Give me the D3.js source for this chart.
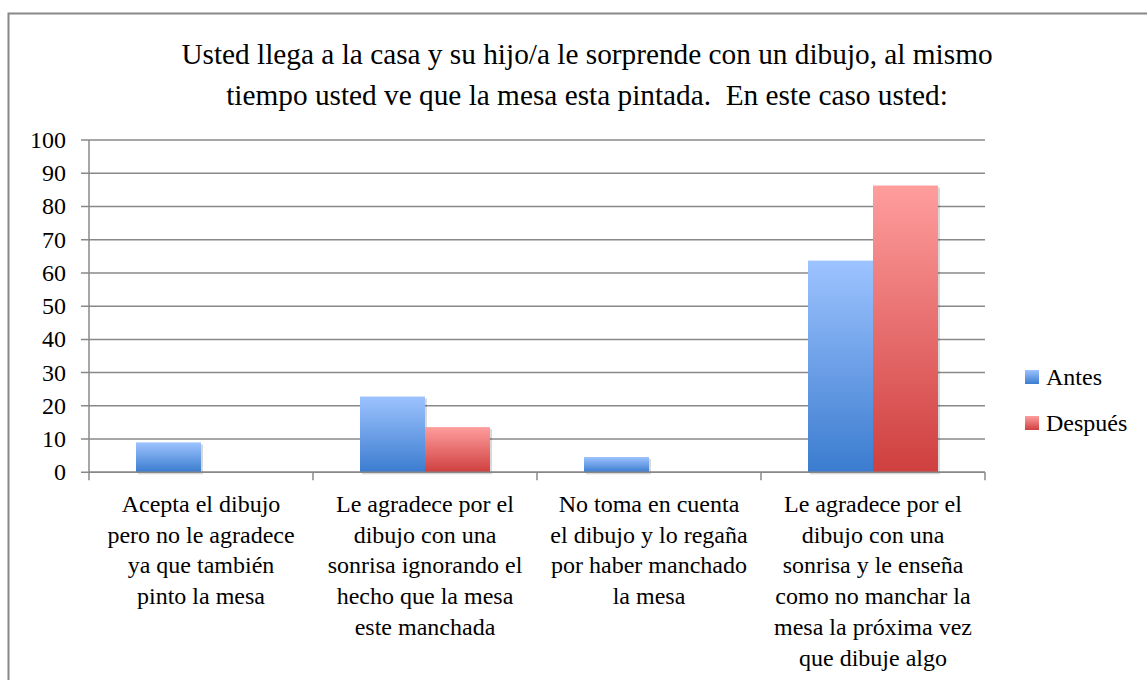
<!DOCTYPE html>
<html><head><meta charset="utf-8">
<script src="https://cdn.jsdelivr.net/npm/d3@7"></script>
</head>
<body style="margin:0"><svg id="c" width="1147" height="680"></svg>
<script>
const titleLines = ["Usted llega a la casa y su hijo/a le sorprende con un dibujo, al mismo",
                    "tiempo usted ve que la mesa esta pintada.  En este caso usted:"];
const categories = [
  ["Acepta el dibujo","pero no le agradece","ya que también","pinto la mesa"],
  ["Le agradece por el","dibujo con una","sonrisa ignorando el","hecho que la mesa","este manchada"],
  ["No toma en cuenta","el dibujo y lo regaña","por haber manchado","la mesa"],
  ["Le agradece por el","dibujo con una","sonrisa y le enseña","como no manchar la","mesa la próxima vez","que dibuje algo"]
];
const seriesNames = ["Antes","Después"];
const antes = [9.0, 22.8, 4.6, 63.7];
const despues = [0, 13.6, 0, 86.3];
const yTicks = [0,10,20,30,40,50,60,70,80,90,100];

const svg = d3.select("#c");
const L=89,R=985,T=140,B=472.3;
const x0 = d3.scaleBand().domain(d3.range(categories.length)).range([L,R]);
const x1 = d3.scaleBand().domain([0,1]).range([0,130]);
const y = d3.scaleLinear().domain([0,100]).range([B,T]);

// texts first
svg.selectAll("text.title").data(titleLines).join("text").attr("class","title")
  .attr("x",587).attr("y",(d,i)=>64+i*41).attr("text-anchor","middle")
  .style("font-family","'Times New Roman'").style("font-size","29.3px").style("white-space","pre")
  .text(d=>d);

svg.selectAll("text.yl").data(yTicks).join("text").attr("class","yl")
  .attr("x",66).attr("y",d=>y(d)+8).attr("text-anchor","end")
  .style("font-family","'Times New Roman'").style("font-size","24px")
  .text(d=>d);

categories.forEach((lines,i)=>{
  svg.selectAll("text.c"+i).data(lines).join("text").attr("class","c"+i)
    .attr("x",x0(i)+x0.bandwidth()/2).attr("y",(t,j)=>512+j*30.7)
    .attr("text-anchor","middle")
    .style("font-family","'Times New Roman'").style("font-size","24px")
    .text(t=>t);
});

svg.selectAll("text.lgt").data(seriesNames).join("text").attr("class","lgt")
  .attr("x",1046).attr("y",(d,i)=>385+i*46)
  .style("font-family","'Times New Roman'").style("font-size","24px")
  .text(d=>d);

const defs = svg.append("defs");
const grads = [["gA","#9dc3ff","#3b7ccf"],["gD","#ff9d9d","#cf3f3f"]];
grads.forEach(([id,c1,c2])=>{
  const g = defs.append("linearGradient").attr("id",id).attr("x1",0).attr("y1",0).attr("x2",0).attr("y2",1);
  g.append("stop").attr("offset","0%").attr("stop-color",c1);
  g.append("stop").attr("offset","100%").attr("stop-color",c2);
});

svg.append("rect").attr("x",8.5).attr("y",13.5).attr("width",1160).attr("height",700)
  .attr("fill","none").attr("stroke","#888").attr("stroke-width",2);

svg.append("g").selectAll("line").data(yTicks).join("line")
  .attr("x1",81).attr("x2",R).attr("y1",d=>y(d)).attr("y2",d=>y(d))
  .attr("stroke","#888").attr("stroke-width",1.5);

svg.append("line").attr("x1",L).attr("x2",L).attr("y1",T).attr("y2",B).attr("stroke","#888").attr("stroke-width",1.5);
svg.append("g").selectAll("line").data(d3.range(categories.length+1)).join("line")
  .attr("x1",d=>L+d*x0.bandwidth()).attr("x2",d=>L+d*x0.bandwidth())
  .attr("y1",B).attr("y2",B+8).attr("stroke","#888").attr("stroke-width",1.5);

const barData = i=>[{s:0,v:antes[i]},{s:1,v:despues[i]}].filter(d=>d.v>0);
const groups = svg.append("g").selectAll("g").data(categories.map((c,i)=>i)).join("g")
  .attr("transform",i=>`translate(${x0(i)+x0.bandwidth()/2-65},0)`);
// soft shadows
groups.selectAll("rect.sh").data(barData).join("rect").attr("class","sh")
  .attr("x",d=>x1(d.s)+2).attr("width",x1.bandwidth())
  .attr("y",d=>y(d.v)+2).attr("height",d=>B-y(d.v))
  .attr("fill","#000").attr("opacity",0.15);
groups.selectAll("rect.bar").data(barData).join("rect").attr("class","bar")
  .attr("x",d=>x1(d.s)).attr("width",x1.bandwidth())
  .attr("y",d=>y(d.v)).attr("height",d=>B-y(d.v))
  .attr("fill",d=>d.s===0?"url(#gA)":"url(#gD)");

svg.append("line").attr("x1",L).attr("x2",R).attr("y1",B).attr("y2",B).attr("stroke","#888").attr("stroke-width",1.5);

svg.selectAll("rect.lg").data(seriesNames).join("rect").attr("class","lg")
  .attr("x",1025).attr("y",(d,i)=>370+i*46).attr("width",14).attr("height",14)
  .attr("fill",(d,i)=>i===0?"url(#gA)":"url(#gD)");
</script></body></html>
